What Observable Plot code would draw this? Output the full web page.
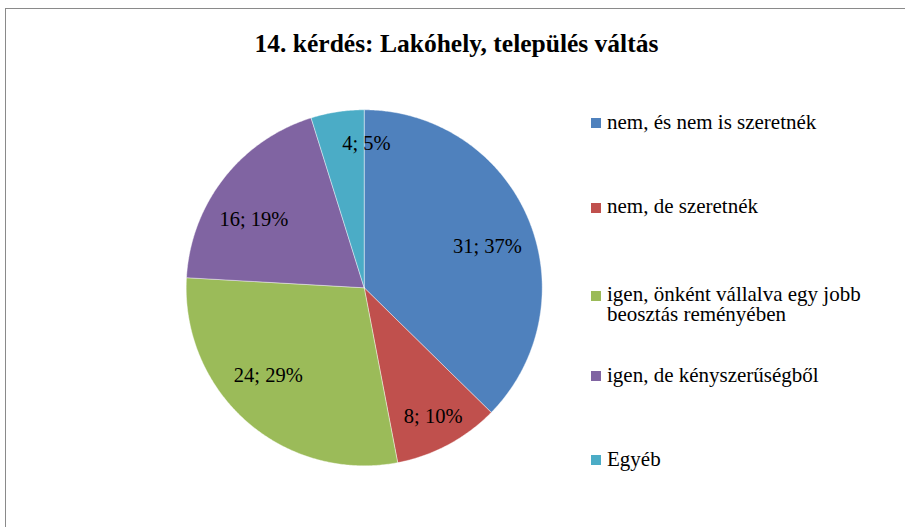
<!DOCTYPE html>
<html>
<head>
<meta charset="utf-8">
<script src="https://cdn.jsdelivr.net/npm/d3@7"></script>
<script src="https://cdn.jsdelivr.net/npm/@observablehq/plot@0.6"></script>
<style>
  body { margin: 0; background: #fff; }
  #chart { position: relative; width: 905px; height: 527px; overflow: hidden; font-family: "Liberation Serif", "Times New Roman", serif; color: #000; }
  #frame { position: absolute; left: 5px; top: 8px; width: 1200px; height: 1200px; border-left: 1.5px solid #8a8a8a; border-top: 1.5px solid #8a8a8a; box-sizing: border-box; }
  #title { position: absolute; left: 0; width: 913px; top: 29px; line-height: 30px; text-align: center; font-weight: bold; font-size: 25.5px; white-space: nowrap; }
  #plot { position: absolute; left: 0; top: 0; }
  .item { position: absolute; left: 591px; width: 290px; }
  .sw { position: absolute; left: 0; top: 6.6px; width: 10px; height: 10px; }
  .lab { position: absolute; left: 16px; width: 262px; font-size: 21px; line-height: 20px; }
</style>
</head>
<body>
<div id="chart">
  <div id="frame"></div>
  <div id="plot"></div>
  <div id="title"></div>
  <div id="legend"></div>
</div>
<script>
const title = "14. kérdés: Lakóhely, település váltás";
const categories = [
  "nem, és nem is szeretnék",
  "nem, de szeretnék",
  "igen, önként vállalva egy jobb beosztás reményében",
  "igen, de kényszerűségből",
  "Egyéb"
];
const counts = [31, 8, 24, 16, 4];
const percents = [37, 10, 29, 19, 5];
const colors = ["#4F81BD", "#C0504D", "#9BBB59", "#8064A2", "#4BACC6"];

document.getElementById("title").textContent = title;

// slice geometry (unit circle, clockwise from 12 o'clock)
const total = d3.sum(counts);
const slices = [];
let acc = 0;
categories.forEach((c, i) => {
  const a0 = acc / total * 2 * Math.PI;
  acc += counts[i];
  const a1 = acc / total * 2 * Math.PI;
  slices.push({cat: c, a0, a1, count: counts[i], pct: percents[i], frac: counts[i] / total});
});

const outline = [];
slices.forEach(s => {
  outline.push({cat: s.cat, x: 0, y: 0});
  const n = Math.max(2, Math.ceil((s.a1 - s.a0) / (Math.PI / 360)));
  for (let k = 0; k <= n; k++) {
    const a = s.a0 + (s.a1 - s.a0) * k / n;
    outline.push({cat: s.cat, x: Math.sin(a), y: Math.cos(a)});
  }
  outline.push({cat: s.cat, x: 0, y: 0});
});

// "best fit" style label placement: wide labels in big slices lean toward the horizontal
const labels = slices.map(s => {
  const m = (s.a0 + s.a1) / 2;
  const small = s.frac < 0.12;
  const r = small ? 0.82 : 0.73;
  const k = small ? 1 : 0.8;
  const dx = Math.sin(m), dy = Math.cos(m) * k;
  const len = Math.hypot(dx, dy);
  return {
    text: `${s.count}; ${s.pct}%`,
    x: r * dx / len,
    y: r * dy / len,
    anchor: Math.abs(Math.sin(m)) < 0.2 ? "start" : "middle"
  };
});

const R = 178, cx = 363.7, cy = 287.3, W = 905, H = 527;

const plot = Plot.plot({
  width: W,
  height: H,
  marginLeft: cx - R,
  marginRight: W - (cx + R),
  marginTop: cy - R,
  marginBottom: H - (cy + R),
  x: {domain: [-1, 1], axis: null},
  y: {domain: [-1, 1], axis: null},
  color: {domain: categories, range: colors},
  style: {fontFamily: "'Liberation Serif', 'Times New Roman', serif", background: "transparent", overflow: "visible"},
  marks: [
    Plot.line(outline, {x: "x", y: "y", z: "cat", fill: "cat", stroke: "#ffffff", strokeWidth: 0.6, strokeOpacity: 0.7, curve: "linear"}),
    Plot.text(labels.filter(d => d.anchor === "middle"), {x: "x", y: "y", text: "text", fontSize: 20.5, fill: "#000", textAnchor: "middle"}),
    Plot.text(labels.filter(d => d.anchor === "start"), {x: "x", y: "y", text: "text", fontSize: 20.5, fill: "#000", textAnchor: "start"})
  ]
});
document.getElementById("plot").appendChild(plot);

// legend
const legend = document.getElementById("legend");
categories.forEach((c, i) => {
  const item = document.createElement("div");
  item.className = "item";
  item.style.top = (111.9 + i * 84.25 + (i === 2 ? 4 : 0)) + "px";
  const sw = document.createElement("div");
  sw.className = "sw";
  sw.style.background = colors[i];
  const lab = document.createElement("div");
  lab.className = "lab";
  lab.textContent = c;
  item.appendChild(sw);
  item.appendChild(lab);
  legend.appendChild(item);
});
</script>
</body>
</html>
